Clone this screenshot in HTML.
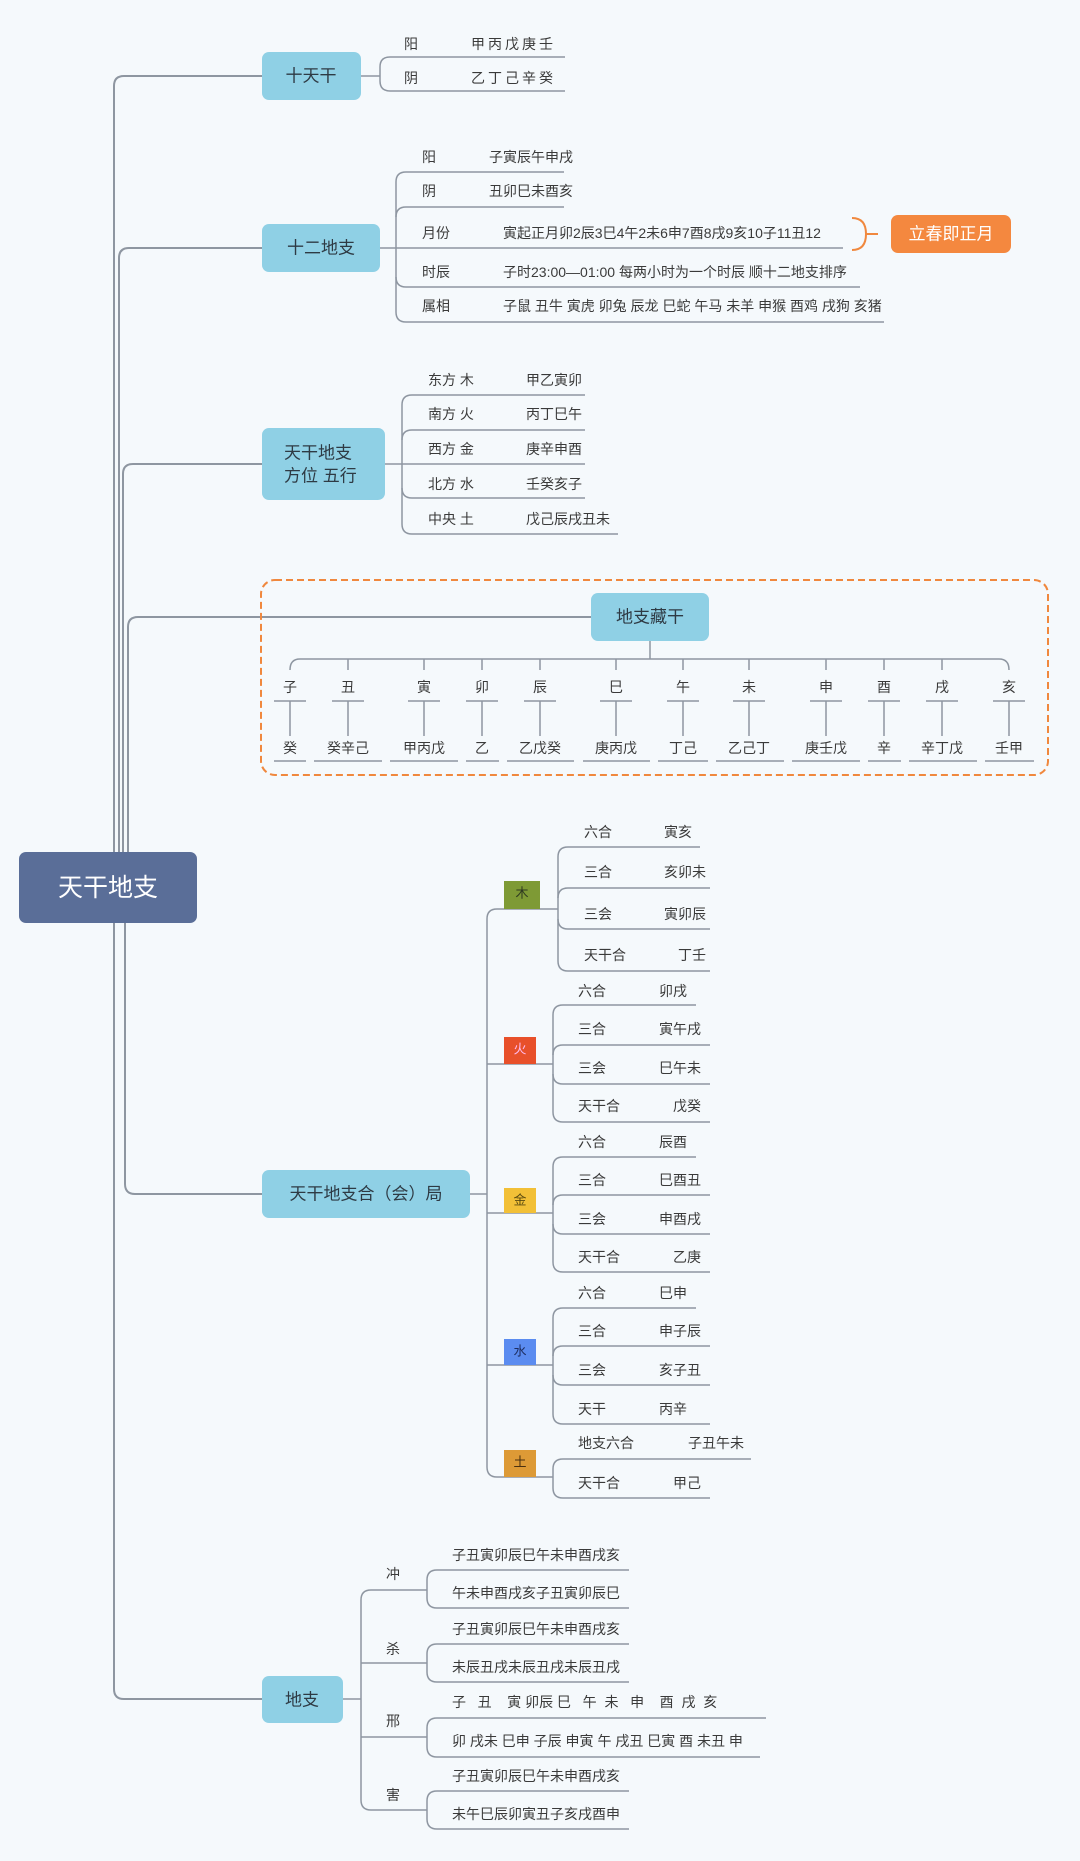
<!DOCTYPE html>
<html><head><meta charset="utf-8"><style>
html,body{margin:0;padding:0;background:#f5f9fc;}
svg{display:block;}
text{font-family:"Liberation Sans","Noto Sans CJK SC",sans-serif;fill:#3a3a3a;dominant-baseline:central;}
.l{fill:none;stroke:#8e96a1;stroke-width:1.5;}
.t{font-size:14px;}
.b{font-size:17px;fill:#2e3a44;}
</style></head><body>
<svg width="1080" height="1861" viewBox="0 0 1080 1861" xmlns="http://www.w3.org/2000/svg">
<rect width="1080" height="1861" fill="#f5f9fc"/>
<g class="l" style="stroke-width:2">
<path d="M114,852 V86 Q114,76 124,76 H262"/>
<path d="M119,852 V258 Q119,248 129,248 H262"/>
<path d="M123,852 V474 Q123,464 133,464 H262"/>
<path d="M128,852 V627 Q128,617 138,617 H591"/>
<path d="M125,923 V1184 Q125,1194 135,1194 H262"/>
<path d="M114,923 V1689 Q114,1699 124,1699 H262"/>
</g>
<rect x="19" y="852" width="178" height="71" rx="7" fill="#5a6e98"/>
<text x="108" y="888" text-anchor="middle" style="font-size:25px;fill:#fff">天干地支</text>

<rect x="262" y="52" width="99" height="48" rx="7" fill="#8fd0e5"/>
<text x="311" y="76" text-anchor="middle" class="b">十天干</text>
<g class="l"><path d="M361,76 H380"/><path d="M380,67 Q380,57 390,57 H565"/><path d="M380,81 Q380,91 390,91 H565"/><path d="M380,67 V81"/></g>
<text x="404" y="44" class="t">阳</text><text x="471" y="44" class="t" letter-spacing="3">甲丙戊庚壬</text>
<text x="404" y="78" class="t">阴</text><text x="471" y="78" class="t" letter-spacing="3">乙丁己辛癸</text>

<rect x="262" y="224" width="118" height="48" rx="7" fill="#8fd0e5"/>
<text x="321" y="248" text-anchor="middle" class="b">十二地支</text>
<g class="l">
<path d="M380,248 H843"/>
<path d="M396,182 V312"/>
<path d="M396,182 Q396,172 406,172 H564"/>
<path d="M396,217 Q396,207 406,207 H564"/>
<path d="M396,277 Q396,287 406,287 H860"/>
<path d="M396,312 Q396,322 406,322 H884"/>
</g>
<text x="422" y="157" class="t">阳</text><text x="489" y="157" class="t">子寅辰午申戌</text>
<text x="422" y="191" class="t">阴</text><text x="489" y="191" class="t">丑卯巳未酉亥</text>
<text x="422" y="233" class="t">月份</text><text x="503" y="233" class="t">寅起正月卯2辰3巳4午2未6申7酉8戌9亥10子11丑12</text>
<text x="422" y="272" class="t">时辰</text><text x="503" y="272" class="t">子时23:00—01:00 每两小时为一个时辰 顺十二地支排序</text>
<text x="422" y="306" class="t">属相</text><text x="503" y="306" class="t">子鼠 丑牛 寅虎 卯兔 辰龙 巳蛇 午马 未羊 申猴 酉鸡 戌狗 亥猪</text>
<path d="M852,218 Q866,218 866,234 Q866,250 852,250 M866,234 H878" fill="none" stroke="#f0883e" stroke-width="2"/>
<rect x="891" y="215" width="120" height="38" rx="7" fill="#f4883f"/>
<text x="951" y="234" text-anchor="middle" style="font-size:17px;fill:#fff">立春即正月</text>

<rect x="262" y="428" width="123" height="72" rx="7" fill="#8fd0e5"/>
<text x="284" y="453" class="b">天干地支</text>
<text x="284" y="476" class="b">方位 五行</text>
<g class="l">
<path d="M385,464 H585"/>
<path d="M402,405 V524"/>
<path d="M402,405 Q402,395 412,395 H585"/>
<path d="M402,440 Q402,430 412,430 H585"/>
<path d="M402,488 Q402,498 412,498 H585"/>
<path d="M402,524 Q402,534 412,534 H618"/>
</g>
<text x="428" y="380" class="t">东方 木</text><text x="526" y="380" class="t">甲乙寅卯</text>
<text x="428" y="414" class="t">南方 火</text><text x="526" y="414" class="t">丙丁巳午</text>
<text x="428" y="449" class="t">西方 金</text><text x="526" y="449" class="t">庚辛申酉</text>
<text x="428" y="484" class="t">北方 水</text><text x="526" y="484" class="t">壬癸亥子</text>
<text x="428" y="519" class="t">中央 土</text><text x="526" y="519" class="t">戊己辰戌丑未</text>

<rect x="261" y="580" width="787" height="195" rx="14" fill="none" stroke="#f0883e" stroke-width="2" stroke-dasharray="7,4"/>
<rect x="591" y="593" width="118" height="48" rx="7" fill="#8fd0e5"/>
<text x="650" y="617" text-anchor="middle" class="b">地支藏干</text>
<g class="l">
<path d="M650,641 V659"/>
<path d="M290,670 Q290,659 300,659 H999 Q1009,659 1009,670"/>
<path d="M348,670 V659 M424,670 V659 M482,670 V659 M540,670 V659 M616,670 V659 M683,670 V659 M749,670 V659 M826,670 V659 M884,670 V659 M942,670 V659"/>
<path d="M274,701 H306 M290,701 V736 M274,761 H306"/>
<path d="M332,701 H364 M348,701 V736 M314,761 H382"/>
<path d="M408,701 H440 M424,701 V736 M390,761 H458"/>
<path d="M466,701 H498 M482,701 V736 M466,761 H499"/>
<path d="M524,701 H556 M540,701 V736 M507,761 H574"/>
<path d="M600,701 H632 M616,701 V736 M583,761 H650"/>
<path d="M667,701 H699 M683,701 V736 M658,761 H708"/>
<path d="M733,701 H765 M749,701 V736 M716,761 H784"/>
<path d="M810,701 H842 M826,701 V736 M792,761 H860"/>
<path d="M868,701 H900 M884,701 V736 M868,761 H901"/>
<path d="M926,701 H958 M942,701 V736 M909,761 H977"/>
<path d="M993,701 H1025 M1009,701 V736 M985,761 H1034"/>
</g>
<g class="t" text-anchor="middle">
<text x="290" y="687">子</text><text x="348" y="687">丑</text><text x="424" y="687">寅</text><text x="482" y="687">卯</text><text x="540" y="687">辰</text><text x="616" y="687">巳</text><text x="683" y="687">午</text><text x="749" y="687">未</text><text x="826" y="687">申</text><text x="884" y="687">酉</text><text x="942" y="687">戌</text><text x="1009" y="687">亥</text>
<text x="290" y="748">癸</text><text x="348" y="748">癸辛己</text><text x="424" y="748">甲丙戊</text><text x="482" y="748">乙</text><text x="540" y="748">乙戊癸</text><text x="616" y="748">庚丙戊</text><text x="683" y="748">丁己</text><text x="749" y="748">乙己丁</text><text x="826" y="748">庚壬戊</text><text x="884" y="748">辛</text><text x="942" y="748">辛丁戊</text><text x="1009" y="748">壬甲</text>
</g>

<rect x="262" y="1170" width="208" height="48" rx="7" fill="#8fd0e5"/>
<text x="366" y="1194" text-anchor="middle" class="b">天干地支合（会）局</text>
<g class="l">
<path d="M470,1194 H487"/>
<path d="M558,909 H497 Q487,909 487,919 V1467 Q487,1477 497,1477 H553"/>
<path d="M487,1064 H553 M487,1213 H553 M487,1365 H553"/>
<path d="M558,857 V961"/>
<path d="M558,857 Q558,847 568,847 H700"/>
<path d="M558,898 Q558,888 568,888 H710"/>
<path d="M558,919 Q558,929 568,929 H710"/>
<path d="M558,961 Q558,971 568,971 H710"/>
<path d="M553,1015 V1112"/>
<path d="M553,1015 Q553,1005 563,1005 H696"/>
<path d="M553,1055 Q553,1045 563,1045 H710"/>
<path d="M553,1074 Q553,1084 563,1084 H710"/>
<path d="M553,1112 Q553,1122 563,1122 H710"/>
<path d="M553,1167 V1262"/>
<path d="M553,1167 Q553,1157 563,1157 H696"/>
<path d="M553,1205 Q553,1195 563,1195 H710"/>
<path d="M553,1224 Q553,1234 563,1234 H710"/>
<path d="M553,1262 Q553,1272 563,1272 H710"/>
<path d="M553,1318 V1414"/>
<path d="M553,1318 Q553,1308 563,1308 H696"/>
<path d="M553,1356 Q553,1346 563,1346 H710"/>
<path d="M553,1375 Q553,1385 563,1385 H710"/>
<path d="M553,1414 Q553,1424 563,1424 H710"/>
<path d="M553,1469 V1488"/>
<path d="M553,1469 Q553,1459 563,1459 H751"/>
<path d="M553,1488 Q553,1498 563,1498 H710"/>
</g>
<rect x="504" y="881" width="36" height="28" fill="#7e9a35"/><text x="522" y="893" text-anchor="middle" style="font-size:13px;fill:#2e3a20">木</text>
<rect x="504" y="1037" width="32" height="27" fill="#e8502a"/><text x="520" y="1049" text-anchor="middle" style="font-size:13px;fill:#fbe">火</text>
<rect x="504" y="1188" width="32" height="25" fill="#f2c037"/><text x="520" y="1200" text-anchor="middle" style="font-size:13px;fill:#5a4a10">金</text>
<rect x="504" y="1339" width="32" height="26" fill="#5b8cf0"/><text x="520" y="1351" text-anchor="middle" style="font-size:13px;fill:#1d2d60">水</text>
<rect x="504" y="1450" width="32" height="27" fill="#dd9a36"/><text x="520" y="1462" text-anchor="middle" style="font-size:13px;fill:#4a3010">土</text>
<g class="t">
<text x="584" y="832">六合</text><text x="664" y="832">寅亥</text>
<text x="584" y="872">三合</text><text x="664" y="872">亥卯未</text>
<text x="584" y="914">三会</text><text x="664" y="914">寅卯辰</text>
<text x="584" y="955">天干合</text><text x="678" y="955">丁壬</text>
<text x="578" y="991">六合</text><text x="659" y="991">卯戌</text>
<text x="578" y="1029">三合</text><text x="659" y="1029">寅午戌</text>
<text x="578" y="1068">三会</text><text x="659" y="1068">巳午未</text>
<text x="578" y="1106">天干合</text><text x="673" y="1106">戊癸</text>
<text x="578" y="1142">六合</text><text x="659" y="1142">辰酉</text>
<text x="578" y="1180">三合</text><text x="659" y="1180">巳酉丑</text>
<text x="578" y="1219">三会</text><text x="659" y="1219">申酉戌</text>
<text x="578" y="1257">天干合</text><text x="673" y="1257">乙庚</text>
<text x="578" y="1293">六合</text><text x="659" y="1293">巳申</text>
<text x="578" y="1331">三合</text><text x="659" y="1331">申子辰</text>
<text x="578" y="1370">三会</text><text x="659" y="1370">亥子丑</text>
<text x="578" y="1409">天干</text><text x="659" y="1409">丙辛</text>
<text x="578" y="1443">地支六合</text><text x="688" y="1443">子丑午未</text>
<text x="578" y="1483">天干合</text><text x="673" y="1483">甲己</text>
</g>

<rect x="262" y="1676" width="81" height="47" rx="7" fill="#8fd0e5"/>
<text x="302" y="1700" text-anchor="middle" class="b">地支</text>
<g class="l">
<path d="M343,1699 H361"/>
<path d="M427,1590 H371 Q361,1590 361,1600 V1800 Q361,1810 371,1810 H427"/>
<path d="M361,1663 H427 M361,1737 H427"/>
<path d="M427,1580 Q427,1570 437,1570 H629 M427,1580 V1598 Q427,1608 437,1608 H629"/>
<path d="M427,1654 Q427,1644 437,1644 H629 M427,1654 V1672 Q427,1682 437,1682 H629"/>
<path d="M427,1728 Q427,1718 437,1718 H766 M427,1728 V1747 Q427,1757 437,1757 H760"/>
<path d="M427,1801 Q427,1791 437,1791 H629 M427,1801 V1819 Q427,1829 437,1829 H629"/>
</g>
<g class="t">
<text x="386" y="1574">冲</text><text x="386" y="1649">杀</text><text x="386" y="1721">邢</text><text x="386" y="1795">害</text>
<text x="452" y="1555">子丑寅卯辰巳午未申酉戌亥</text>
<text x="452" y="1593">午未申酉戌亥子丑寅卯辰巳</text>
<text x="452" y="1629">子丑寅卯辰巳午未申酉戌亥</text>
<text x="452" y="1667">未辰丑戌未辰丑戌未辰丑戌</text>
<text x="452" y="1702" xml:space="preserve">子   丑    寅 卯辰 巳   午  未   申    酉  戌  亥</text>
<text x="452" y="1741">卯 戌未 巳申 子辰 申寅 午 戌丑 巳寅 酉 未丑 申</text>
<text x="452" y="1776">子丑寅卯辰巳午未申酉戌亥</text>
<text x="452" y="1814">未午巳辰卯寅丑子亥戌酉申</text>
</g>
</svg>
</body></html>
